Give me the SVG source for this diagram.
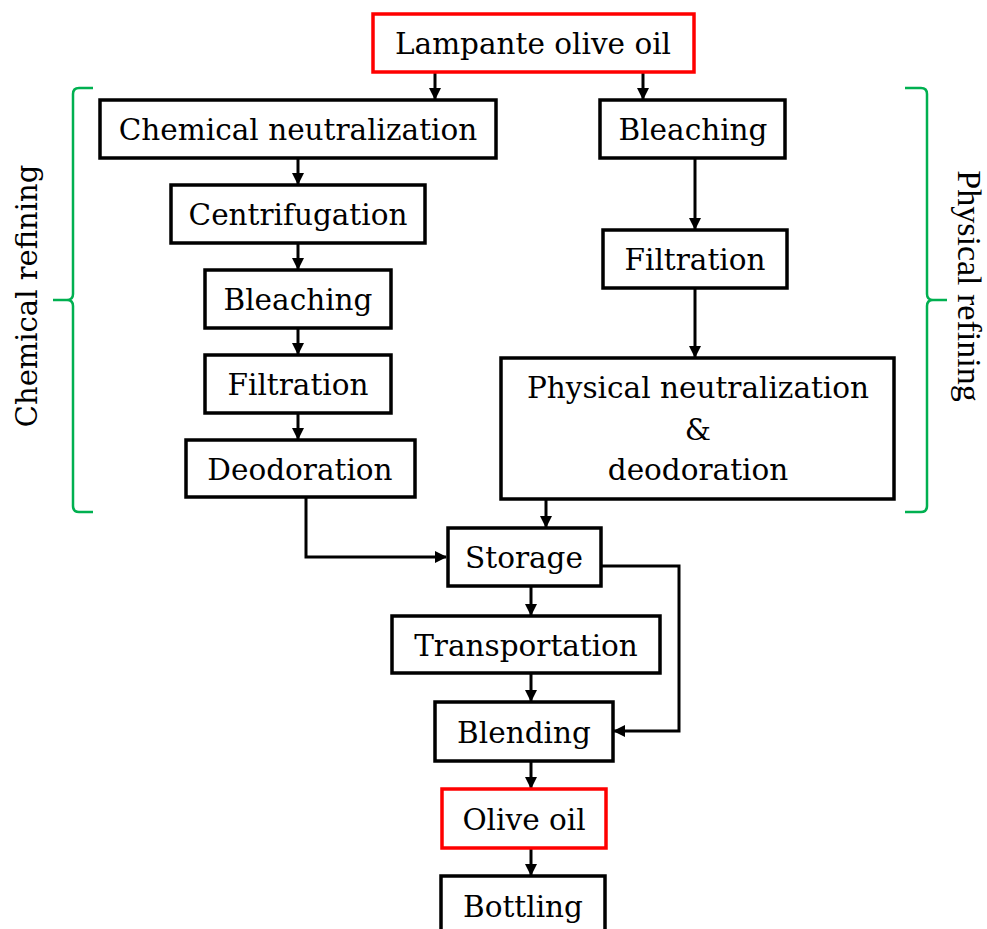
<svg xmlns="http://www.w3.org/2000/svg" width="987" height="929" viewBox="0 0 987 929">
<style>
.b{fill:#fff;stroke:#000;stroke-width:3.5}
.r{fill:#fff;stroke:#ff0000;stroke-width:3.5}
.t{font-family:"DejaVu Serif","Liberation Serif",serif;font-size:29.5px;fill:#000;text-anchor:middle}
.c{fill:none;stroke:#000;stroke-width:3}
.g{fill:none;stroke:#00b050;stroke-width:2.5}
.lc{font-family:"DejaVu Serif","Liberation Serif",serif;font-size:29px;fill:#000;text-anchor:middle}
.lp{font-family:"Liberation Serif","Times New Roman",serif;font-size:34px;fill:#000;text-anchor:middle}
</style>
<defs>
<marker id="a" markerWidth="12" markerHeight="12" refX="11" refY="6" orient="auto" markerUnits="userSpaceOnUse" viewBox="0 0 12 12">
<path d="M0,0 L12,6 L0,12 z" fill="#000"/>
</marker>
</defs>
<g id="connectors">
<path class="c" d="M435,72 V99" marker-end="url(#a)"/>
<path class="c" d="M643,72 V99" marker-end="url(#a)"/>
<path class="c" d="M298,158 V184" marker-end="url(#a)"/>
<path class="c" d="M298,243 V269" marker-end="url(#a)"/>
<path class="c" d="M298,328 V354" marker-end="url(#a)"/>
<path class="c" d="M298,413 V439" marker-end="url(#a)"/>
<path class="c" d="M695,158 V229" marker-end="url(#a)"/>
<path class="c" d="M695,288 V357" marker-end="url(#a)"/>
<path class="c" d="M546,499 V527" marker-end="url(#a)"/>
<path class="c" d="M306,497 V557 H446" marker-end="url(#a)"/>
<path class="c" d="M601,566 H679 V731 H614" marker-end="url(#a)"/>
<path class="c" d="M531,586 V615" marker-end="url(#a)"/>
<path class="c" d="M531,673 V701" marker-end="url(#a)"/>
<path class="c" d="M531,761 V788" marker-end="url(#a)"/>
<path class="c" d="M531,848 V875" marker-end="url(#a)"/>
</g>
<g id="n-lampante"><rect class="r" x="373" y="14" width="321" height="58"/><text class="t" x="533" y="54">Lampante olive oil</text></g>
<g id="n-chemneut"><rect class="b" x="100" y="100" width="396" height="58"/><text class="t" x="298" y="140">Chemical neutralization</text></g>
<g id="n-centrif"><rect class="b" x="171" y="185" width="254" height="58"/><text class="t" x="298" y="225">Centrifugation</text></g>
<g id="n-bleach1"><rect class="b" x="205" y="270" width="186" height="58"/><text class="t" x="298" y="310">Bleaching</text></g>
<g id="n-filt1"><rect class="b" x="205" y="355" width="186" height="58"/><text class="t" x="298" y="395">Filtration</text></g>
<g id="n-deod"><rect class="b" x="186" y="440" width="229" height="57"/><text class="t" x="300" y="480">Deodoration</text></g>
<g id="n-bleach2"><rect class="b" x="600" y="100" width="185" height="58"/><text class="t" x="693" y="140">Bleaching</text></g>
<g id="n-filt2"><rect class="b" x="603" y="230" width="184" height="58"/><text class="t" x="695" y="270">Filtration</text></g>
<g id="n-physneut"><rect class="b" x="501" y="358" width="393" height="141"/><text class="t" x="698" y="398">Physical neutralization</text><text class="t" x="698" y="440">&amp;</text><text class="t" x="698" y="480">deodoration</text></g>
<g id="n-storage"><rect class="b" x="448" y="528" width="153" height="58"/><text class="t" x="524" y="568">Storage</text></g>
<g id="n-transport"><rect class="b" x="392" y="616" width="268" height="57"/><text class="t" x="526" y="656">Transportation</text></g>
<g id="n-blend"><rect class="b" x="435" y="702" width="178" height="59"/><text class="t" x="524" y="743">Blending</text></g>
<g id="n-oliveoil"><rect class="r" x="442" y="789" width="164" height="59"/><text class="t" x="524" y="830">Olive oil</text></g>
<g id="n-bottling"><rect class="b" x="441" y="876" width="164" height="70"/><text class="t" x="523" y="917">Bottling</text></g>
<g id="brace-chem"><path class="g" d="M93,88 H79 Q73,88 73,94 V294 Q73,300 67,300 H53 H67 Q73,300 73,306 V506 Q73,512 79,512 H93"/><text class="lc" transform="translate(37,296) rotate(-90)">Chemical refining</text></g>
<g id="brace-phys"><path class="g" d="M905,88 H921 Q927,88 927,94 V294 Q927,300 933,300 H947 H933 Q927,300 927,306 V506 Q927,512 921,512 H905"/><text class="lp" transform="translate(958,286) rotate(90)">Physical refining</text></g>
</svg>
